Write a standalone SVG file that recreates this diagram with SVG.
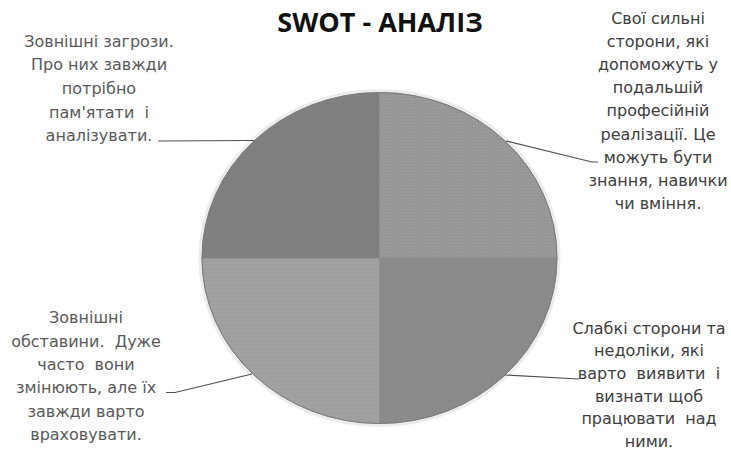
<svg xmlns="http://www.w3.org/2000/svg" width="731" height="451" viewBox="0 0 731 451">
<style>
.lbl{font-family:"DejaVu Sans","Verdana",sans-serif;font-size:16px;text-anchor:middle;white-space:pre}
.lt{fill:#5a5a5a}
.dk{fill:#404040}
.title{font-family:"Open Sans","Noto Sans",sans-serif;font-weight:bold;font-size:27px;fill:#111;text-anchor:middle}
.lead{fill:none;stroke:#505050;stroke-width:1.2}
.sl{stroke:#8a8a8a;stroke-width:0.8}
</style>
<defs>
<pattern id="dots" width="3" height="3" patternUnits="userSpaceOnUse">
<rect width="3" height="3" fill="#999999"/>
<circle cx="1.5" cy="1.5" r="0.6" fill="#8c8c8c"/>
</pattern>
<pattern id="zig" width="4" height="4" patternUnits="userSpaceOnUse">
<rect width="4" height="4" fill="#a2a2a2"/>
<path d="M0,2 L2,0 L4,2" fill="none" stroke="#989898" stroke-width="0.6"/>
</pattern>
<pattern id="fine" width="3" height="3" patternUnits="userSpaceOnUse">
<rect width="3" height="3" fill="#8b8b8b"/>
<circle cx="1.5" cy="1.5" r="0.6" fill="#828282"/>
</pattern>
<pattern id="dark" width="3" height="3" patternUnits="userSpaceOnUse">
<rect width="3" height="3" fill="#808080"/>
<circle cx="1.5" cy="1.5" r="0.6" fill="#797979"/>
</pattern>
</defs>
<rect width="731" height="451" fill="#ffffff"/>
<text class="title" x="380" y="32">SWOT - АНАЛІЗ</text>
<ellipse cx="379.5" cy="258" rx="179.5" ry="167.5" fill="none" stroke="#ececec" stroke-width="3"/>
<g id="strengths">
<path class="sl" d="M379.5,258 L379.5,92.5 A177.5,165.5 0 0 1 557,258 Z" fill="url(#dots)"/>
<text class="lbl dk" x="658"><tspan x="658" y="23.5">Свої сильні</tspan><tspan x="658" y="46.7">сторони, які</tspan><tspan x="658" y="69.9">допоможуть у</tspan><tspan x="658" y="93.1">подальшій</tspan><tspan x="658" y="116.3">професійній</tspan><tspan x="658" y="139.5">реалізації. Це</tspan><tspan x="658" y="162.7">можуть бути</tspan><tspan x="658" y="185.9">знання, навички</tspan><tspan x="658" y="209.1">чи вміння.</tspan></text>
</g>
<g id="weaknesses">
<path class="sl" d="M379.5,258 L557,258 A177.5,165.5 0 0 1 379.5,423.5 Z" fill="url(#fine)"/>
<text class="lbl dk"><tspan x="649" y="333.5">Слабкі сторони та</tspan><tspan x="649" y="356.2">недоліки, які</tspan><tspan x="649" y="378.9">варто  виявити  і</tspan><tspan x="649" y="401.6">визнати щоб</tspan><tspan x="649" y="424.3">працювати  над</tspan><tspan x="649" y="447">ними.</tspan></text>
</g>
<g id="opportunities">
<path class="sl" d="M379.5,258 L379.5,423.5 A177.5,165.5 0 0 1 202,258 Z" fill="url(#zig)"/>
<text class="lbl lt"><tspan x="86" y="323.3">Зовнішні</tspan><tspan x="86" y="346.7">обставини.  Дуже</tspan><tspan x="86" y="370">часто  вони</tspan><tspan x="86" y="393.4">змінюють, але їх</tspan><tspan x="86" y="416.8">завжди варто</tspan><tspan x="86" y="440">враховувати.</tspan></text>
</g>
<g id="threats">
<path class="sl" d="M379.5,258 L202,258 A177.5,165.5 0 0 1 379.5,92.5 Z" fill="url(#dark)"/>
<text class="lbl lt"><tspan x="99" y="46.7">Зовнішні загрози.</tspan><tspan x="99" y="70.3">Про них завжди</tspan><tspan x="99" y="93.9">потрібно</tspan><tspan x="99" y="117.5">пам'ятати  і</tspan><tspan x="99" y="141.1">аналізувати.</tspan></text>
</g>
<ellipse cx="379.5" cy="258" rx="177.5" ry="165.5" fill="none" stroke="#7a7a7a" stroke-width="1"/>
<g id="connectors">
<path class="lead" d="M158,141 L254,140.5"/>
<path class="lead" d="M506,141 L592,162 L598,162"/>
<path class="lead" d="M166,392.5 L175,392.5 L252,374"/>
<path class="lead" d="M505,375 L579,379"/>
</g>
</svg>
